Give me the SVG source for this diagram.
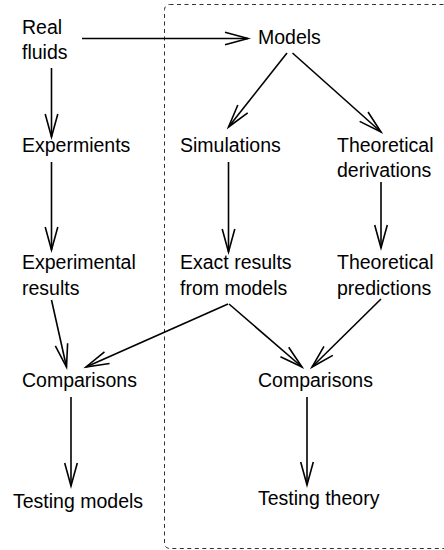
<svg xmlns="http://www.w3.org/2000/svg" width="444" height="550" viewBox="0 0 444 550">
<style>
text{font-family:"Liberation Sans",Arial,sans-serif;font-size:19.5px;fill:#000}
.c line{stroke:#000;stroke-width:1.6;marker-end:url(#ah)}
.frame{fill:none;stroke:#333;stroke-width:1;stroke-dasharray:4 3.5}
</style>
<defs>
<marker id="ah" markerUnits="userSpaceOnUse" markerWidth="30" markerHeight="20" refX="0" refY="0" viewBox="-26 -10 30 20" orient="auto" overflow="visible">
<path d="M-23,-6.3 L0,0 L-23,6.3" fill="none" stroke="#000" stroke-width="1.6"/>
</marker>
</defs>
<rect class="frame" x="164.5" y="4.5" width="290" height="544" rx="5"/>
<g class="c">
<line x1="82" y1="38.5" x2="248" y2="38.5"/>
<line x1="51.5" y1="68" x2="51.5" y2="137"/>
<line x1="51.5" y1="162" x2="51.5" y2="250"/>
<line x1="51.5" y1="300" x2="66.5" y2="367"/>
<line x1="228" y1="304" x2="86" y2="367"/>
<line x1="71" y1="397" x2="71" y2="486"/>
<line x1="287" y1="53" x2="228.5" y2="127"/>
<line x1="292.5" y1="53" x2="381" y2="132"/>
<line x1="228.5" y1="162" x2="228.5" y2="252"/>
<line x1="381" y1="182" x2="381" y2="248"/>
<line x1="229" y1="304" x2="302" y2="367"/>
<line x1="381" y1="299" x2="312" y2="367"/>
<line x1="307" y1="397" x2="307" y2="485"/>
</g>
<g id="real-fluids"><text x="22" y="34">Real</text><text x="22" y="59">fluids</text></g>
<g id="models"><text x="258" y="44">Models</text></g>
<g id="experiments"><text x="22" y="152">Expermients</text></g>
<g id="simulations"><text x="180" y="152">Simulations</text></g>
<g id="theoretical-derivations"><text x="337" y="152">Theoretical</text><text x="337" y="177">derivations</text></g>
<g id="experimental-results"><text x="22" y="269">Experimental</text><text x="22" y="295">results</text></g>
<g id="exact-results"><text x="180" y="269">Exact results</text><text x="180" y="295">from models</text></g>
<g id="theoretical-predictions"><text x="337" y="269">Theoretical</text><text x="337" y="295">predictions</text></g>
<g id="comparisons-left"><text x="22" y="387">Comparisons</text></g>
<g id="comparisons-right"><text x="258" y="387">Comparisons</text></g>
<g id="testing-models"><text x="13" y="508">Testing models</text></g>
<g id="testing-theory"><text x="258" y="505">Testing theory</text></g>
</svg>
